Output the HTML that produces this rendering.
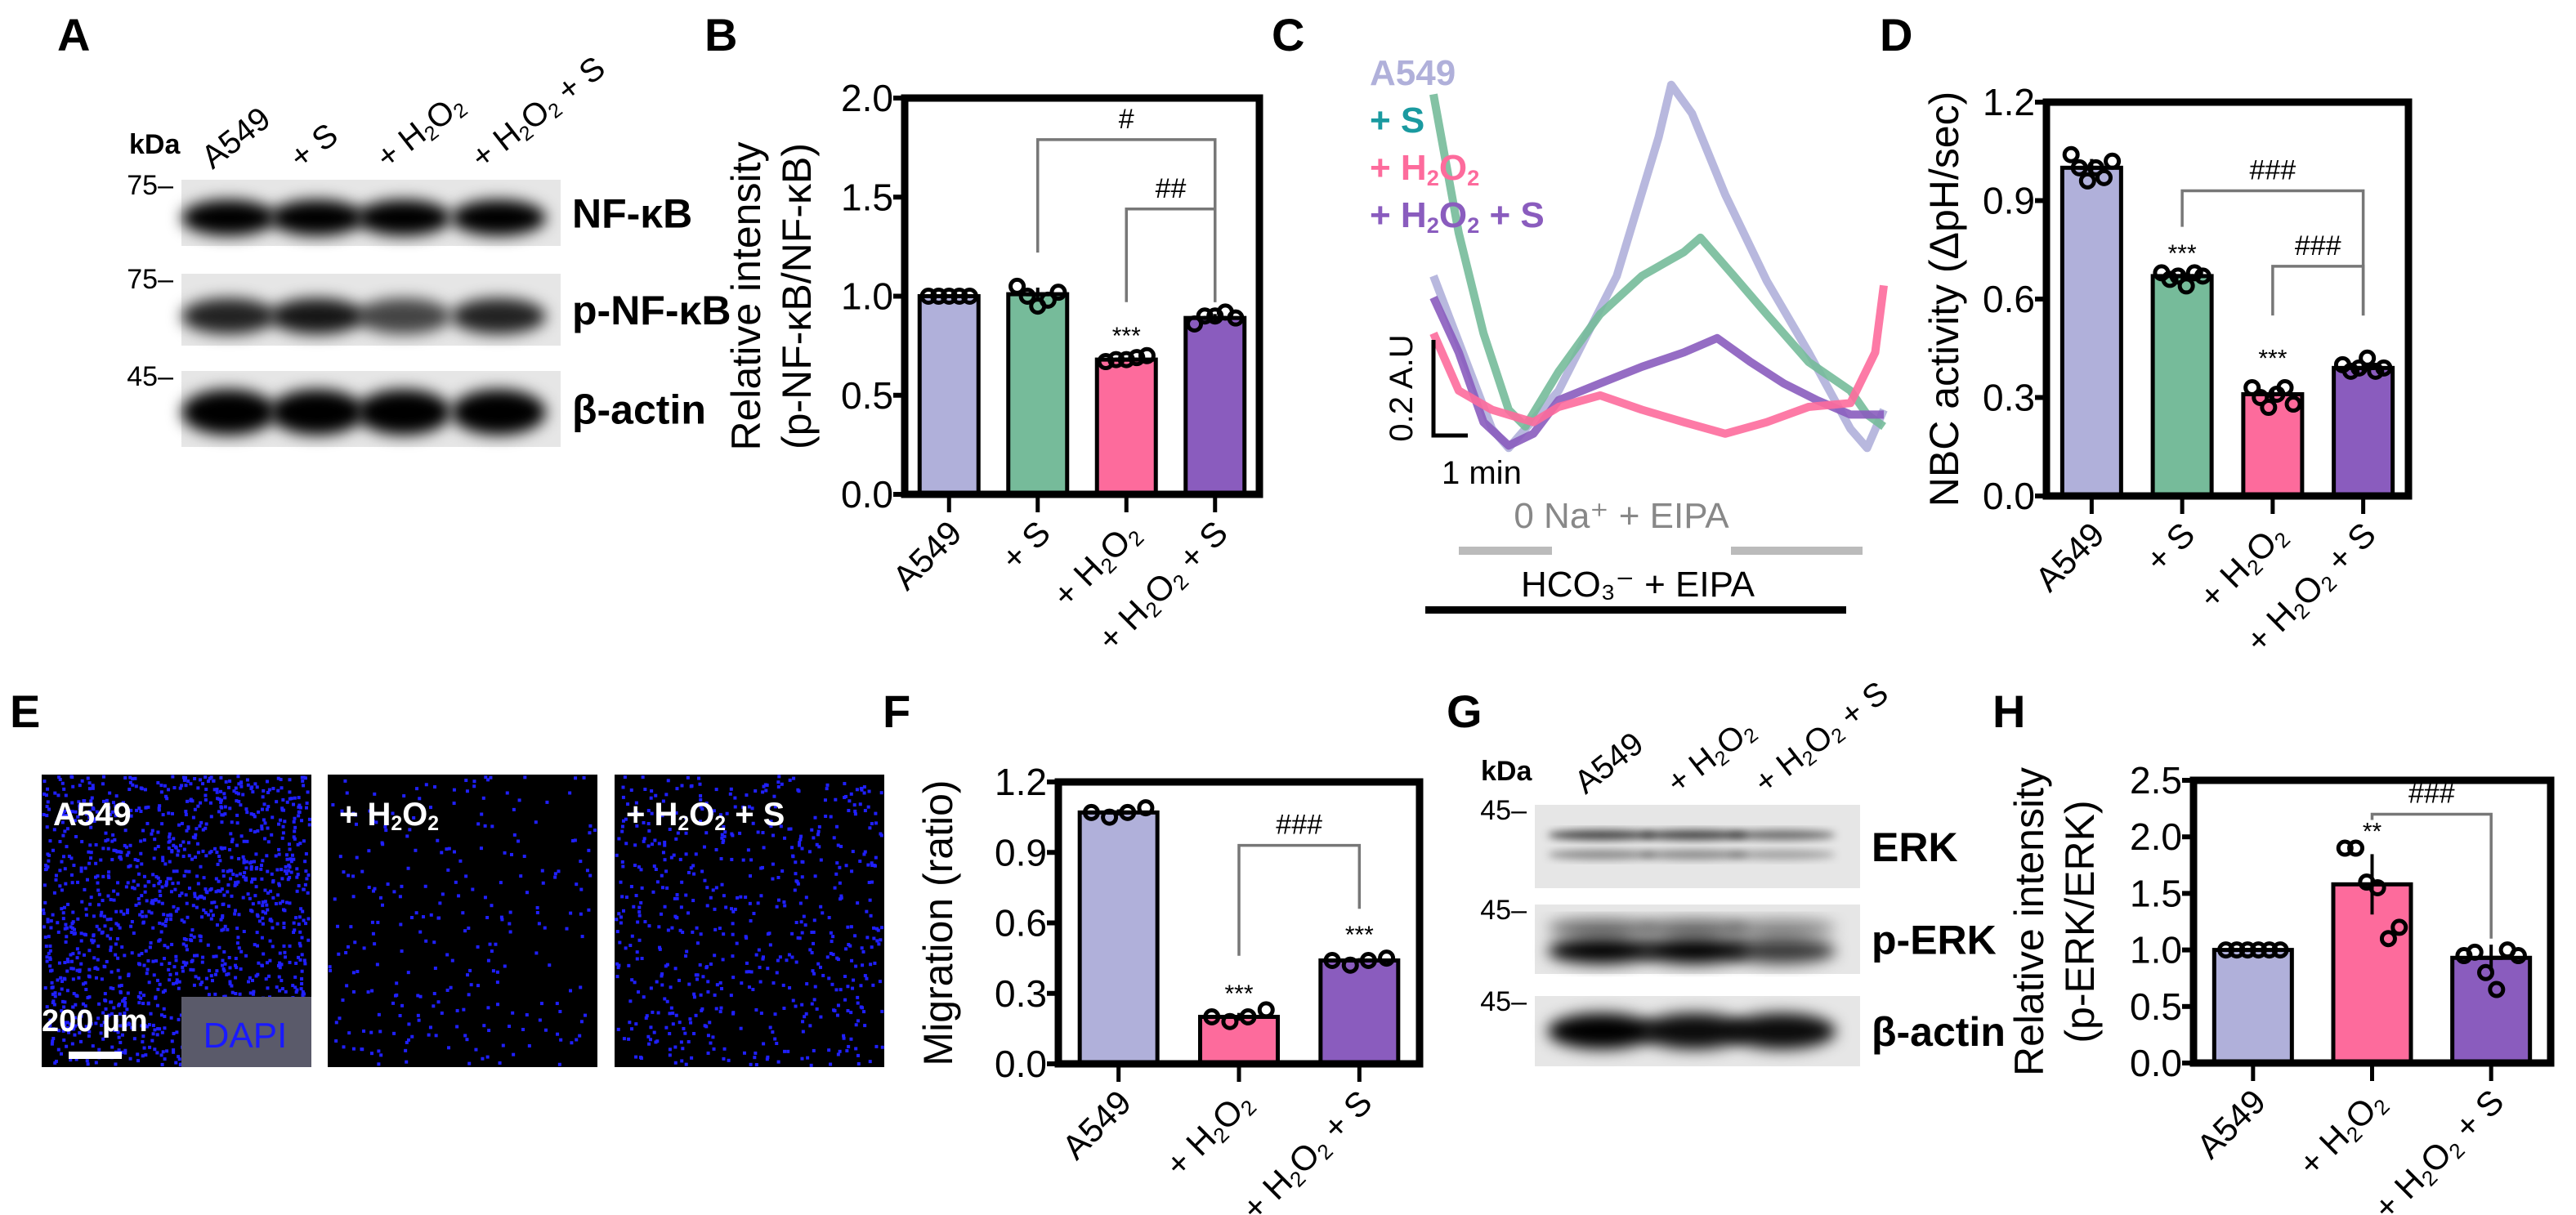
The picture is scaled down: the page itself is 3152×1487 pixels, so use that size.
<!DOCTYPE html>
<html><head><meta charset="utf-8"><style>
html,body{margin:0;padding:0;background:#fff}
svg{display:block;font-family:"Liberation Sans",sans-serif}
</style></head><body>
<svg id="fig" width="3152" height="1487" viewBox="0 0 3152 1487" xmlns="http://www.w3.org/2000/svg">
<defs>
<filter id="blur" x="-20%" y="-50%" width="140%" height="200%"><feGaussianBlur stdDeviation="9"/></filter>
<filter id="blur2" x="-20%" y="-50%" width="140%" height="200%"><feGaussianBlur stdDeviation="5"/></filter>
</defs>
<g id="root"></g>
</svg>
<script>
// ---------- data ----------
const catsB = ["A549","+ S","+ H2O2","+ H2O2 + S"];
const meansB = [1.0, 1.01, 0.68, 0.89];
const ptsB = [[1,1,1,1,1],[1.05,1.0,0.95,0.98,1.02],[0.67,0.68,0.68,0.69,0.7],[0.86,0.9,0.9,0.92,0.89]];
const ticksB = [0,0.5,1.0,1.5,2.0];

const catsD = ["A549","+ S","+ H2O2","+ H2O2 + S"];
const meansD = [1.0, 0.67, 0.31, 0.39];
const ptsD = [[1.04,1.0,0.96,1.0,0.97,1.02],[0.68,0.66,0.67,0.64,0.68,0.67],[0.33,0.3,0.27,0.31,0.33,0.28],[0.4,0.38,0.39,0.42,0.38,0.39]];
const ticksD = [0,0.3,0.6,0.9,1.2];

const catsF = ["A549","+ H2O2","+ H2O2 + S"];
const meansF = [1.07, 0.20, 0.44];
const ptsF = [[1.07,1.05,1.07,1.09],[0.2,0.18,0.2,0.23],[0.44,0.42,0.44,0.45]];
const ticksF = [0,0.3,0.6,0.9,1.2];

const catsH = ["A549","+ H2O2","+ H2O2 + S"];
const meansH = [1.0, 1.58, 0.93];
const ptsH = [[1,1,1,1,1,1],[1.9,1.9,1.6,1.55,1.1,1.2],[0.95,0.98,0.8,0.65,1.0,0.95]];
const ticksH = [0,0.5,1.0,1.5,2.0,2.5];

const tA549 = [0,13,16.7,27.8,40.7,50,52.8,57.4,64.8,74,83.3,92.6,96.3,100];
const vA549 = [0.38,0.06,0.02,0.14,0.38,0.67,0.78,0.72,0.55,0.37,0.22,0.06,0.02,0.10];
const tS = [0,5.6,11.1,16.7,20.4,27.8,37,46.3,55.6,59.3,66.7,74,83.3,92.6,96.3,100];
const vS = [0.76,0.47,0.26,0.10,0.065,0.18,0.30,0.38,0.43,0.46,0.38,0.30,0.20,0.14,0.09,0.065];
const tH = [0,5.6,13,22.2,27.8,37,46.3,55.6,64.8,74,83.3,92.6,98.1,100];
const vH = [0.26,0.14,0.10,0.074,0.106,0.13,0.10,0.074,0.05,0.074,0.106,0.114,0.22,0.36];
const tHS = [0,5.6,11.1,16.7,22.2,27.8,37,46.3,55.6,63,70.4,77.8,85.2,92.6,100];
const vHS = [0.335,0.22,0.074,0.025,0.05,0.12,0.155,0.19,0.22,0.25,0.20,0.155,0.12,0.09,0.09];

const C_LAV="#b0b0da", C_GRN="#76bb9a", C_PNK="#fd6b9c", C_PUR="#8a5cbe";
// ---------- helpers ----------
const NS="http://www.w3.org/2000/svg";
const root=document.getElementById('root');
function mk(tag,attrs,parent){const e=document.createElementNS(NS,tag);for(const k in attrs)e.setAttribute(k,attrs[k]);(parent||root).appendChild(e);return e;}
function txt(x,y,s,size,opts,parent){opts=opts||{};const t=mk('text',{x:x,y:y,'font-size':size,'text-anchor':opts.anchor||'start','font-weight':opts.weight||'normal',fill:opts.fill||'#000'},parent);
  if(opts.rot!==undefined)t.setAttribute('transform','rotate('+opts.rot+' '+x+' '+y+')');
  if(opts.dom)t.setAttribute('dominant-baseline',opts.dom);
  addChem(t,s,size);return t;}
function addChem(t,s,size){ // render H2O2 with subscripts
  const parts=s.split(/(H2O2)/);
  parts.forEach(p=>{ if(p==='H2O2'){
      ['H','2','O','2'].forEach(c=>{const sp=document.createElementNS(NS,'tspan');sp.textContent=c;
        if(c==='2'){sp.setAttribute('font-size',size*0.62);sp.setAttribute('baseline-shift','-25%');}
        t.appendChild(sp);});
    } else if(p){const sp=document.createElementNS(NS,'tspan');sp.textContent=p;t.appendChild(sp);} });
}
function label(x,y,s){const t=txt(x,y,s,56,{weight:'bold'});

}

function barChart(id,fr,ymax,ticks,cats,means,pts,colors,barW,title,sig,stars){
  const g=mk('g',{});
  
  
  const n=cats.length, band=(fr.x1-fr.x0)/n;
  const X=i=>fr.x0+band*(i+0.5);
  const Y=v=>fr.yb-(v/ymax)*(fr.yb-fr.yt);
  // bars
  means.forEach((m,i)=>{const r=mk('rect',{x:X(i)-barW/2,y:Y(m),width:barW,height:fr.yb-Y(m),fill:colors[i],stroke:'#000','stroke-width':5},g);
    
    });
  // points
  pts.forEach((arr,i)=>{const k=arr.length;arr.forEach((v,j)=>{const off=(j-(k-1)/2)*(barW*0.7/Math.max(k-1,1));
    const c=mk('circle',{cx:X(i)+off,cy:Y(v),r:8,fill:'none',stroke:'#000','stroke-width':5},g);
    
    });
    const sd=Math.max(...arr)-Math.min(...arr);
    mk('line',{x1:X(i),x2:X(i),y1:Y(means[i]+sd/3),y2:Y(means[i]-sd/3),stroke:'#000','stroke-width':4},g);
    mk('line',{x1:X(i)-14,x2:X(i)+14,y1:Y(means[i]),y2:Y(means[i]),stroke:'#000','stroke-width':5},g);
  });
  // frame
  mk('path',{d:`M${fr.x0} ${fr.yb} L${fr.x0} ${fr.yt} L${fr.x1} ${fr.yt} L${fr.x1} ${fr.yb} Z`,fill:'none',stroke:'#000','stroke-width':9},g);
  // y ticks
  ticks.forEach(tv=>{mk('line',{x1:fr.x0-14,x2:fr.x0,y1:Y(tv),y2:Y(tv),stroke:'#000','stroke-width':6},g);
    const t=txt(fr.x0-14,Y(tv)+16,tv.toFixed(1),46,{anchor:'end'},g);
    
    });
  // x ticks & labels
  cats.forEach((c,i)=>{mk('line',{x1:X(i),x2:X(i),y1:fr.yb,y2:fr.yb+22,stroke:'#000','stroke-width':5},g);
    const t=txt(X(i)+18,fr.yb+50,c,42,{anchor:'end',rot:-45},g);
    
    });
  // title
  const cy=(fr.yt+fr.yb)/2;
  title.lines.forEach((s,k)=>{const t=txt(title.x+k*62,cy,s,50,{anchor:'middle',rot:-90},g);
    
    });
  // significance
  sig.forEach(s=>{const xa=X(s.a),xb=X(s.b),y=Y(s.y);
    mk('path',{d:`M${xa} ${Y(s.la)} L${xa} ${y} L${xb} ${y} L${xb} ${Y(s.lb)}`,fill:'none',stroke:'#777','stroke-width':3.5},g);
    const t=txt((xa+xb)/2,y-14,s.mark,34,{anchor:'middle'},g);
    
    });
  stars.forEach(s=>{const t=txt(X(s.i),Y(s.y)+10,s.mark,30,{anchor:'middle'},g);
    
    });
}
const four=[C_LAV,C_GRN,C_PNK,C_PUR];
barChart('nfkb',{x0:1107,x1:1541,yt:120,yb:605},2.0,ticksB,catsB,meansB,ptsB,four,72,{x:930,lines:["Relative intensity","(p-NF-κB/NF-κB)"]},
  [{a:1,b:3,y:1.79,la:1.22,lb:0.97,mark:'#'},{a:2,b:3,y:1.44,la:0.97,lb:0.97,mark:'##'}],[{i:2,y:0.8,mark:'***'}]);
barChart('nbc',{x0:2504,x1:2947,yt:125,yb:607},1.2,ticksD,catsD,meansD,ptsD,four,72,{x:2396,lines:["NBC activity (ΔpH/sec)"]},
  [{a:1,b:3,y:0.93,la:0.82,lb:0.55,mark:'###'},{a:2,b:3,y:0.7,la:0.55,lb:0.55,mark:'###'}],[{i:1,y:0.74,mark:'***'},{i:2,y:0.42,mark:'***'}]);
barChart('migration',{x0:1295,x1:1737,yt:957,yb:1302},1.2,ticksF,catsF,meansF,ptsF,[C_LAV,C_PNK,C_PUR],95,{x:1165,lines:["Migration (ratio)"]},
  [{a:1,b:2,y:0.93,la:0.46,lb:0.66,mark:'###'}],[{i:1,y:0.3,mark:'***'},{i:2,y:0.55,mark:'***'}]);
barChart('erk',{x0:2684,x1:3121,yt:955,yb:1301},2.5,ticksH,catsH,meansH,ptsH,[C_LAV,C_PNK,C_PUR],95,{x:2500,lines:["Relative intensity","(p-ERK/ERK)"]},
  [{a:1,b:2,y:2.2,la:2.15,lb:1.1,mark:'###'}],[{i:1,y:2.05,mark:'**'}]);

// panel labels
label(70,62,'A');label(862,62,'B');label(1556,62,'C');label(2300,62,'D');
label(12,890,'E');label(1080,890,'F');label(1770,890,'G');label(2438,890,'H');

// ---------- Western blots ----------
function blot(id,x0,x1,rows,lanes,labels,kda,colLabels){
  const g=mk('g',{});
  
  
  rows.forEach((r,ri)=>{mk('rect',{x:x0,y:r.y0,width:x1-x0,height:r.y1-r.y0,fill:'#e6e6e6'},g);
    const cy=(r.y0+r.y1)/2+ (r.off||0);
    lanes.forEach((lx,li)=>{const w=r.ints[li];
      r.bands.forEach(b=>{mk('ellipse',{cx:lx,cy:cy+b.dy,rx:(x1-x0)/lanes.length*0.5,ry:b.ry,fill:'#000','fill-opacity':w*b.op,filter:r.soft?'url(#blur2)':'url(#blur)'},g);});});
    const t=txt(x1+14,(r.y0+r.y1)/2+18,labels[ri],50,{weight:'bold'},g);
    
    
    const k=txt(x0-10,r.y0+18,kda[ri]+'–',34,{anchor:'end'},g);
    
    });
  colLabels.forEach((c,i)=>{const t=txt(lanes[i]-20,rows[0].y0-12,c,40,{rot:-38},g);
    
    });
}
blot('blot-nfkb',222,686,[
  {y0:220,y1:301,ints:[1,1,1,1],bands:[{dy:6,ry:22,op:1}]},
  {y0:335,y1:423,ints:[0.85,0.9,0.7,0.85],bands:[{dy:8,ry:22,op:1}]},
  {y0:454,y1:547,ints:[1,1,1,1],bands:[{dy:4,ry:28,op:1}]}],
  [280,388,494,610],['NF-κB','p-NF-κB','β-actin'],['75','75','45'],['A549','+ S','+ H2O2','+ H2O2 + S']);
txt(158,188,'kDa',34,{weight:'bold'});
blot('blot-erk',1878,2276,[
  {y0:985,y1:1087,ints:[0.8,0.8,0.6],soft:true,bands:[{dy:-14,ry:6,op:0.9},{dy:10,ry:6,op:0.5}]},
  {y0:1107,y1:1192,ints:[1,1,0.75],bands:[{dy:-14,ry:10,op:0.6},{dy:14,ry:16,op:1}]},
  {y0:1219,y1:1305,ints:[1,0.95,0.95],bands:[{dy:0,ry:22,op:1}]}],
  [1960,2073,2180],['ERK','p-ERK','β-actin'],['45','45','45'],['A549','+ H2O2','+ H2O2 + S']);
txt(1812,955,'kDa',34,{weight:'bold'});

// ---------- Panel C traces ----------
const gC=mk('g',{});


const TX=t=>1754+t/100*(2305-1754);
const TY=v=>560-v*585;
function trace(ts,vs,color,name){const d=ts.map((t,i)=>(i?'L':'M')+TX(t).toFixed(1)+' '+TY(vs[i]).toFixed(1)).join(' ');
  const p=mk('path',{d:d,fill:'none',stroke:color,'stroke-width':10,'stroke-linejoin':'round','stroke-opacity':0.9},gC);
  
  }
trace(tA549,vA549,C_LAV,'trace-a549');
trace(tS,vS,C_GRN,'trace-s');
trace(tHS,vHS,C_PUR,'trace-h2o2-s');
trace(tH,vH,C_PNK,'trace-h2o2');
[['A549',C_LAV,104],['+ S','#1a9aa0',162],['+ H2O2',C_PNK,220],['+ H2O2 + S',C_PUR,278]].forEach(l=>{
  const t=txt(1676,l[2],l[0],44,{weight:'bold',fill:l[1]},gC);
  
  });
mk('path',{d:'M1754 416 L1754 533 L1796 533',fill:'none',stroke:'#000','stroke-width':5},gC);
txt(1728,475,'0.2 A.U',40,{anchor:'middle',rot:-90},gC);
txt(1764,592,'1 min',40,{},gC);
txt(1984,646,'0 Na⁺ + EIPA',44,{anchor:'middle',fill:'#888'},gC);
mk('rect',{x:1785,y:669,width:114,height:10,fill:'#bbb'},gC);
mk('rect',{x:2118,y:669,width:161,height:10,fill:'#bbb'},gC);
txt(2004,730,'HCO₃⁻ + EIPA',44,{anchor:'middle'},gC);
mk('rect',{x:1744,y:742,width:515,height:9,fill:'#000'},gC);

// ---------- Panel E images ----------
let seed=12345;function rnd(){seed=(seed*1103515245+12345)%2147483648;return seed/2147483648;}
const imgs=[{x:51,n:1400,name:'image-a549',lab:'A549'},{x:401,n:260,name:'image-h2o2',lab:'+ H2O2'},{x:752,n:600,name:'image-h2o2-s',lab:'+ H2O2 + S'}];
imgs.forEach(im=>{const g=mk('g',{});
  
  
  mk('rect',{x:im.x,y:948,width:330,height:358,fill:'#000'},g);
  for(let i=0;i<im.n;i++){mk('rect',{x:im.x+rnd()*326,y:948+rnd()*354,width:4,height:4,fill:'#2020ff'},g);}
  txt(im.x+14,1010,im.lab,40,{weight:'bold',fill:'#fff'},g);});
mk('rect',{x:222,y:1220,width:159,height:86,fill:'#5a5a6a'});
txt(300,1282,'DAPI',44,{anchor:'middle',fill:'#1a1aff'});
txt(51,1262,'200 µm',38,{weight:'bold',fill:'#fff'});
mk('rect',{x:84,y:1287,width:65,height:9,fill:'#fff'});
</script>
</body></html>
